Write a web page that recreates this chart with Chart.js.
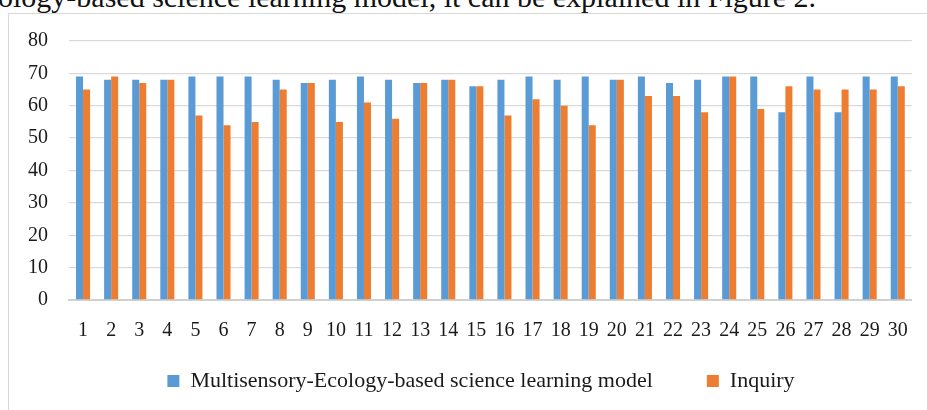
<!DOCTYPE html>
<html>
<head>
<meta charset="utf-8">
<script src="https://cdn.jsdelivr.net/npm/chart.js@4"></script>
<style>
  html, body { margin: 0; padding: 0; background: #fff; overflow: hidden; }
  body { width: 927px; height: 410px; position: relative; }
  #caption { position: absolute; left: -2px; top: -20px; font-family: "Liberation Serif", serif; font-size: 30px; line-height: 34px; white-space: nowrap; color: #111; }
  #frame { position: absolute; left: 8px; top: 13px; width: 940px; height: 420px; border: 1px solid #d9d9d9; box-sizing: border-box; }
  #wrap { position: absolute; left: 0; top: 0; width: 927px; height: 410px; }
</style>
</head>
<body>
<div id="caption">ology-based science learning model, it can be explained in Figure 2.</div>
<div id="frame"></div>
<div id="wrap"><canvas id="c" width="927" height="410"></canvas></div>
<script>
const categories = ['1','2','3','4','5','6','7','8','9','10','11','12','13','14','15','16','17','18','19','20','21','22','23','24','25','26','27','28','29','30'];
const multisensoryValues = [69,68,68,68,69,69,69,68,67,68,69,68,67,68,66,68,69,68,69,68,69,67,68,69,69,58,69,58,69,69];
const inquiryValues = [65,69,67,68,57,54,55,65,67,55,61,56,67,68,66,57,62,60,54,68,63,63,58,69,59,66,65,65,65,66];
const seriesNames = ['Multisensory-Ecology-based science learning model', 'Inquiry'];
const yTicks = [0,10,20,30,40,50,60,70,80];

const serif = '"Liberation Serif", "Times New Roman", serif';
const textColor = '#1a1a1a';

// nudges the bottom legend into the position it has in the figure
const legendNudge = {
  id: 'legendNudge',
  afterLayout(chart) {
    const lg = chart.legend;
    if (!lg) return;
    lg.top -= 26;
    lg.bottom = chart.height;
    lg.height = lg.bottom - lg.top;
    lg.left += 15; lg.right += 15;
  }
};

new Chart(document.getElementById('c'), {
  type: 'bar',
  data: {
    labels: categories,
    datasets: [
      { label: seriesNames[0], data: multisensoryValues, backgroundColor: '#5B9BD5', borderWidth: 0, categoryPercentage: 0.5, barPercentage: 1.0 },
      { label: seriesNames[1], data: inquiryValues, backgroundColor: '#ED7D31', borderWidth: 0, categoryPercentage: 0.5, barPercentage: 1.0 }
    ]
  },
  plugins: [legendNudge],
  options: {
    responsive: false,
    animation: false,
    devicePixelRatio: 1,
    layout: { padding: { left: 20, right: 15, top: 41, bottom: 0 } },
    plugins: {
      tooltip: { enabled: false },
      legend: {
        position: 'bottom',
        maxHeight: 68,
        labels: {
          boxWidth: 12, boxHeight: 12, padding: 54,
          color: textColor,
          font: { family: serif, size: 22 }
        }
      }
    },
    scales: {
      x: {
        grid: { display: false, drawTicks: false },
        border: { display: true, color: '#d0d0d0', width: 2 },
        ticks: { color: textColor, font: { family: serif, size: 20 }, padding: 19, maxRotation: 0, autoSkip: false },
        afterFit: s => { s.height = 42; }
      },
      y: {
        min: 0, max: 80,
        afterBuildTicks: s => { s.ticks = yTicks.map(v => ({ value: v })); },
        grid: { color: '#d9d9d9', lineWidth: 1.3, drawTicks: false },
        border: { display: false },
        ticks: { color: textColor, font: { family: serif, size: 20 }, padding: 21 },
        afterFit: s => { s.width = 49; }
      }
    }
  }
});
</script>
</body>
</html>
